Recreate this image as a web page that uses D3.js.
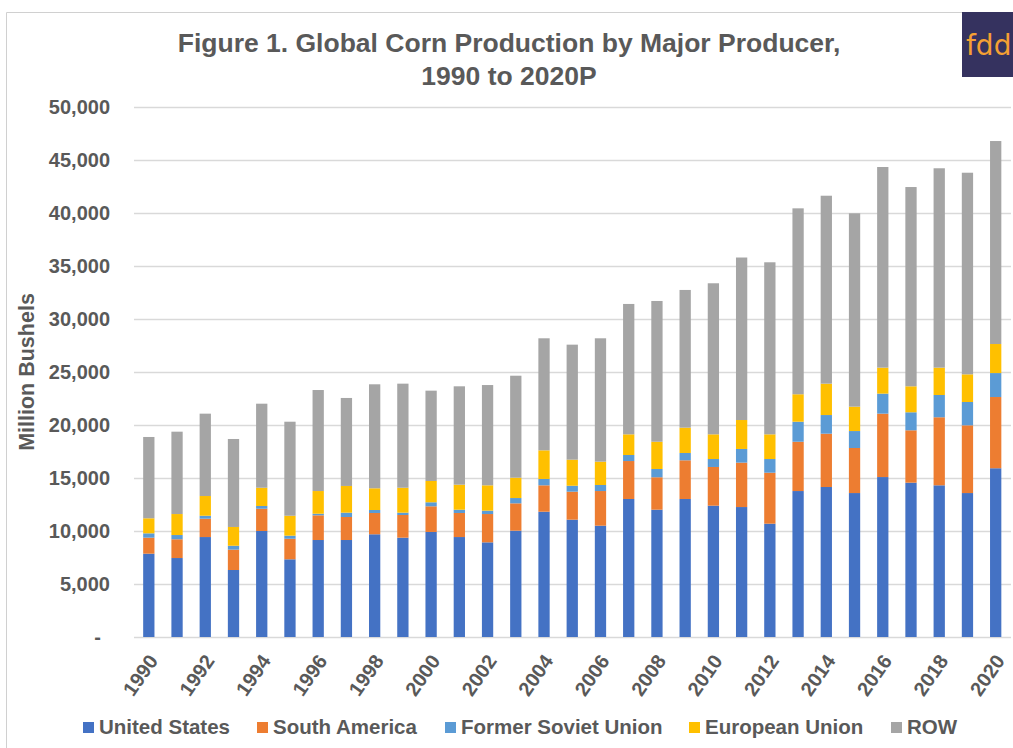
<!DOCTYPE html>
<html>
<head>
<meta charset="utf-8">
<script src="https://cdn.jsdelivr.net/npm/d3@7"></script>
<style>
  html, body { margin: 0; padding: 0; background: #fff; }
  svg { display: block; font-family: "Liberation Sans", Arial, sans-serif; }
</style>
</head>
<body>
<svg id="chart" width="1013" height="748"></svg>
<script>
// Global corn production, million bushels, by major producer
const years = d3.range(1990, 2021);
const unitedStates = [7860, 7450, 9430, 6320, 10000, 7330, 9150, 9150, 9690, 9370, 9910, 9430, 8930, 10030, 11820, 11070, 10500, 13020, 12010, 13020, 12390, 12260, 10690, 13770, 14150, 13580, 15090, 14560, 14310, 13580, 15920];
const southAmerica = [1510, 1770, 1730, 1920, 2100, 1940, 2330, 2170, 2010, 2140, 2420, 2270, 2670, 2580, 2490, 2640, 3270, 3580, 3060, 3650, 3650, 4190, 4810, 4650, 5030, 4250, 5980, 4940, 6420, 6390, 6720];
const formerSovietUnion = [410, 400, 280, 370, 260, 290, 150, 410, 280, 220, 380, 310, 320, 500, 600, 560, 570, 570, 780, 690, 750, 1290, 1290, 1890, 1760, 1600, 1890, 1700, 2100, 2200, 2260];
const europeanUnion = [1420, 1980, 1860, 1770, 1720, 1880, 2140, 2520, 2050, 2350, 2010, 2360, 2390, 1920, 2700, 2460, 2200, 1950, 2570, 2390, 2330, 2730, 2330, 2590, 2960, 2300, 2450, 2450, 2580, 2610, 2740];
const restOfWorld = [7670, 7770, 7770, 8300, 7930, 8870, 9530, 8300, 9810, 9820, 8520, 9280, 9460, 9620, 10570, 10850, 11640, 12300, 13280, 12990, 14250, 15330, 16230, 17540, 17730, 18240, 18930, 18800, 18810, 19020, 19150];

const seriesNames = ["United States", "South America", "Former Soviet Union", "European Union", "ROW"];
const seriesColors = ["#4472c4", "#ed7d31", "#5b9bd5", "#ffc000", "#a5a5a5"];
const yTicks = [0, 5000, 10000, 15000, 20000, 25000, 30000, 35000, 40000, 45000, 50000];
const xTickYears = years.filter(y => y % 2 === 0);

const seriesValues = [unitedStates, southAmerica, formerSovietUnion, europeanUnion, restOfWorld];
const rows = years.map((yr, i) => {
  const r = { year: yr };
  seriesNames.forEach((n, k) => { r[n] = seriesValues[k][i]; });
  return r;
});

const svg = d3.select("#chart");
const textColor = "#595959";
const gridColor = "#d9d9d9";

// Chart frame
svg.append("rect").attr("x", 0).attr("y", 0).attr("width", 1013).attr("height", 748).attr("fill", "#fff");
svg.append("path")
  .attr("d", "M6.5,748 V12.5 H962")
  .attr("fill", "none").attr("stroke", "#d0d0d0").attr("stroke-width", 1);

const x = d3.scaleBand()
  .domain(years)
  .range([134.7, 1009.8])
  .paddingInner(0.6)
  .paddingOuter(0.3);

const y = d3.scaleLinear().domain([0, 50000]).range([637, 107]);

// Horizontal gridlines
svg.append("g")
  .selectAll("line")
  .data(yTicks)
  .join("line")
  .attr("x1", 134).attr("x2", 1011)
  .attr("y1", d => Math.round(y(d)) + 0.5)
  .attr("y2", d => Math.round(y(d)) + 0.5)
  .attr("stroke", gridColor).attr("stroke-width", 1.3);

// Y axis labels
const fmt = d3.format(",");
const yAxis = d3.axisLeft(y)
  .tickValues(yTicks)
  .tickSize(0)
  .tickPadding(0)
  .tickFormat(d => d === 0 ? "-" : fmt(d));
const yg = svg.append("g").attr("transform", "translate(110,0)").call(yAxis);
yg.select(".domain").remove();
yg.selectAll("text")
  .attr("fill", textColor)
  .attr("font-size", 20)
  .attr("font-weight", "bold")
  .attr("font-family", "'Liberation Sans', Arial, sans-serif")
  .attr("dx", d => d === 0 ? -9 : 0);

// Stacked bars
const stack = d3.stack().keys(seriesNames);
const stacked = stack(rows);

svg.append("g")
  .selectAll("g")
  .data(stacked)
  .join("g")
  .attr("fill", (d, i) => seriesColors[i])
  .selectAll("rect")
  .data(d => d)
  .join("rect")
  .attr("x", d => x(d.data.year))
  .attr("width", x.bandwidth())
  .attr("y", d => y(d[1]))
  .attr("height", d => y(d[0]) - y(d[1]));

// X axis labels (every other year), rotated
const xAxis = d3.axisBottom(x)
  .tickValues(xTickYears)
  .tickSize(0)
  .tickPadding(0);
const xg = svg.append("g").attr("transform", "translate(0,637)").call(xAxis);
xg.select(".domain").remove();
xg.selectAll("text")
  .attr("fill", textColor)
  .attr("font-size", 20)
  .attr("font-weight", "bold")
  .attr("font-family", "'Liberation Sans', Arial, sans-serif")
  .attr("text-anchor", "end")
  .attr("dy", 0)
  .attr("y", 0)
  .attr("transform", "translate(10,24) rotate(-55)");

// Y axis title
svg.append("text")
  .attr("transform", "translate(34,372) rotate(-90)")
  .attr("text-anchor", "middle")
  .attr("fill", textColor)
  .attr("font-size", 21.5)
  .attr("font-weight", "bold")
  .text("Million Bushels");

// Title
const title = svg.append("text")
  .attr("text-anchor", "middle")
  .attr("fill", textColor)
  .attr("font-size", 26.5)
  .attr("font-weight", "bold");
title.append("tspan").attr("x", 509).attr("y", 52).text("Figure 1. Global Corn Production by Major Producer,");
title.append("tspan").attr("x", 509).attr("y", 85).text("1990 to 2020P");

// Logo badge
svg.append("rect").attr("x", 962).attr("y", 12).attr("width", 51).attr("height", 65).attr("fill", "#35325f");
svg.append("text")
  .attr("x", 966).attr("y", 55)
  .attr("fill", "#f5a033")
  .attr("font-size", 28)
  .attr("font-family", "'DejaVu Sans', sans-serif")
  .text("fdd");

// Legend
const legendX = [83, 257, 445, 689, 891];
const legend = svg.append("g")
  .selectAll("g")
  .data(seriesNames)
  .join("g")
  .attr("transform", (d, i) => `translate(${legendX[i]},722)`);
legend.append("rect")
  .attr("width", 11).attr("height", 11)
  .attr("fill", (d, i) => seriesColors[i]);
legend.append("text")
  .attr("x", 16).attr("y", 12)
  .attr("fill", textColor)
  .attr("font-size", 20.5)
  .attr("font-weight", "bold")
  .text(d => d);
</script>
</body>
</html>
